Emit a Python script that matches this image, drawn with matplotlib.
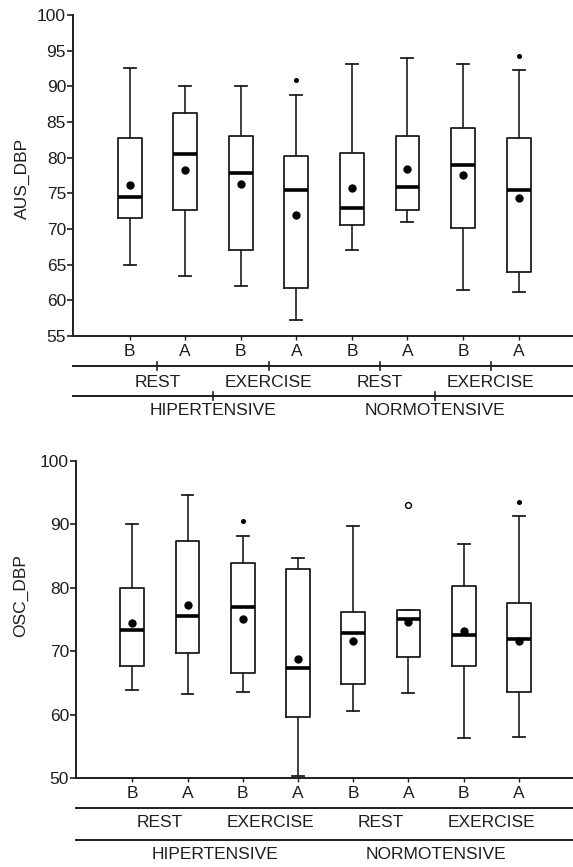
import matplotlib
matplotlib.use("Agg")
import matplotlib.pyplot as plt

plt.rcParams['font.family'] = ['Liberation Sans', 'DejaVu Sans']

# category labels (three levels)
conditions = ['B', 'A', 'B', 'A', 'B', 'A', 'B', 'A']
activity = ['REST', 'EXERCISE', 'REST', 'EXERCISE']
groups = ['HIPERTENSIVE', 'NORMOTENSIVE']

# AUS_DBP (top panel)
aus_low = [65.0, 63.4, 62.0, 57.3, 67.0, 71.0, 61.5, 61.2]
aus_q1 = [71.5, 72.6, 67.0, 61.7, 70.5, 72.6, 70.1, 63.9]
aus_med = [74.5, 80.5, 77.9, 75.5, 72.9, 75.9, 79.0, 75.4]
aus_q3 = [82.8, 86.2, 83.0, 80.3, 80.7, 83.0, 84.1, 82.7]
aus_high = [92.5, 90.0, 90.0, 88.8, 93.1, 94.0, 93.1, 92.3]
aus_mean = [76.1, 78.3, 76.3, 72.0, 75.8, 78.4, 77.6, 74.3]
aus_out = [[], [], [], [90.9], [], [], [], [94.3]]

# OSC_DBP (bottom panel)
osc_low = [63.9, 63.2, 63.6, 50.3, 60.6, 63.4, 56.3, 56.4]
osc_q1 = [67.6, 69.7, 66.6, 59.6, 64.8, 69.0, 67.7, 63.5]
osc_med = [73.3, 75.5, 76.9, 67.3, 72.8, 75.1, 72.5, 71.9]
osc_q3 = [79.9, 87.4, 83.9, 82.9, 76.1, 76.5, 80.3, 77.6]
osc_high = [90.0, 94.6, 88.1, 84.7, 89.7, 76.5, 86.9, 91.3]
osc_mean = [74.4, 77.2, 75.0, 68.8, 71.6, 74.6, 73.2, 71.6]
osc_out = [[], [], [90.5], [], [], [93.1], [], [93.5]]
osc_open_out = [5]  # box whose outlier is drawn as an open circle

INK = '#1e1e1e'
FS = 12.5


def draw_panel(ax, low, q1, med, q3, high, mean, out, ylim, yticks, ylabel,
               label_pos, lines_ticks, rows, open_out=()):
    stats = []
    for i in range(len(conditions)):
        stats.append({'whislo': low[i], 'q1': q1[i], 'med': med[i], 'q3': q3[i],
                      'whishi': high[i], 'mean': mean[i], 'fliers': out[i]})
    pos = list(range(1, len(conditions) + 1))
    art = ax.bxp(stats, positions=pos, widths=0.43, showmeans=True,
                 boxprops=dict(color=INK, lw=1.3),
                 whiskerprops=dict(color=INK, lw=1.2),
                 capprops=dict(color=INK, lw=1.3),
                 medianprops=dict(color='black', lw=2.6),
                 meanprops=dict(marker='o', markerfacecolor='black',
                                markeredgecolor='black', markersize=5),
                 flierprops=dict(marker='o', markerfacecolor='black',
                                 markeredgecolor='black', markersize=2.6))
    for i in open_out:
        art['fliers'][i].set_markerfacecolor('white')
        art['fliers'][i].set_markersize(4.2)
        art['fliers'][i].set_markeredgewidth(1.0)

    ax.set_ylim(*ylim)
    ax.set_xlim(-0.02, 8.98)
    ax.set_yticks(yticks)
    ax.set_xticks(pos)
    ax.set_xticklabels([])
    ax.tick_params(axis='y', length=4, width=1.2, color=INK, labelsize=FS,
                   labelcolor=INK, pad=1)
    ax.tick_params(axis='x', length=3, width=1.0, color=INK, direction='out')
    for s in ['top', 'right']:
        ax.spines[s].set_visible(False)
    for s in ['left', 'bottom']:
        ax.spines[s].set_linewidth(1.4)
        ax.spines[s].set_color(INK)
    ax.set_ylabel(ylabel, fontsize=FS, color=INK)
    ax.yaxis.set_label_coords(*label_pos)

    # hierarchical category axis below the plot
    h = ax.get_window_extent().height
    fr = lambda px: -px / h
    tr = ax.get_xaxis_transform()
    y_cond, y_l1, y_act, y_l2, y_grp = rows
    for x, c in zip(pos, conditions):
        ax.text(x, fr(y_cond), c, transform=tr, ha='center', va='center',
                fontsize=FS, color=INK)
    for yl in (y_l1, y_l2):
        ax.plot([0, 1], [fr(yl), fr(yl)], transform=ax.transAxes, color=INK,
                lw=1.4, clip_on=False)
    for k, a in enumerate(activity):
        xc = pos[2 * k] + 0.5
        ax.text(xc, fr(y_act), a, transform=tr, ha='center', va='center',
                fontsize=FS, color=INK)
        if lines_ticks:
            ax.plot([xc, xc], [fr(y_l1 - 4), fr(y_l1 + 4)], transform=tr,
                    color=INK, lw=1.2, clip_on=False)
    for k, g in enumerate(groups):
        xc = pos[4 * k] + 1.5
        ax.text(xc, fr(y_grp), g, transform=tr, ha='center', va='center',
                fontsize=FS, color=INK)
        if lines_ticks:
            ax.plot([xc, xc], [fr(y_l2 - 4), fr(y_l2 + 4)], transform=tr,
                    color=INK, lw=1.2, clip_on=False)


fig = plt.figure(figsize=(5.73, 8.67), dpi=100)
ax1 = fig.add_axes([0.1274, 0.6125, 0.8726, 0.3702])
ax2 = fig.add_axes([0.1326, 0.1027, 0.8674, 0.3659])

draw_panel(ax1, aus_low, aus_q1, aus_med, aus_q3, aus_high, aus_mean, aus_out,
           (55, 100), range(55, 101, 5), 'AUS_DBP', (-0.086, 0.49),
           True, (16, 30, 47, 60, 75))
draw_panel(ax2, osc_low, osc_q1, osc_med, osc_q3, osc_high, osc_mean, osc_out,
           (50, 100), range(50, 101, 10), 'OSC_DBP', (-0.097, 0.574),
           False, (15.5, 30, 45, 62, 77), open_out=osc_open_out)

fig.savefig('out.png', dpi=100)
